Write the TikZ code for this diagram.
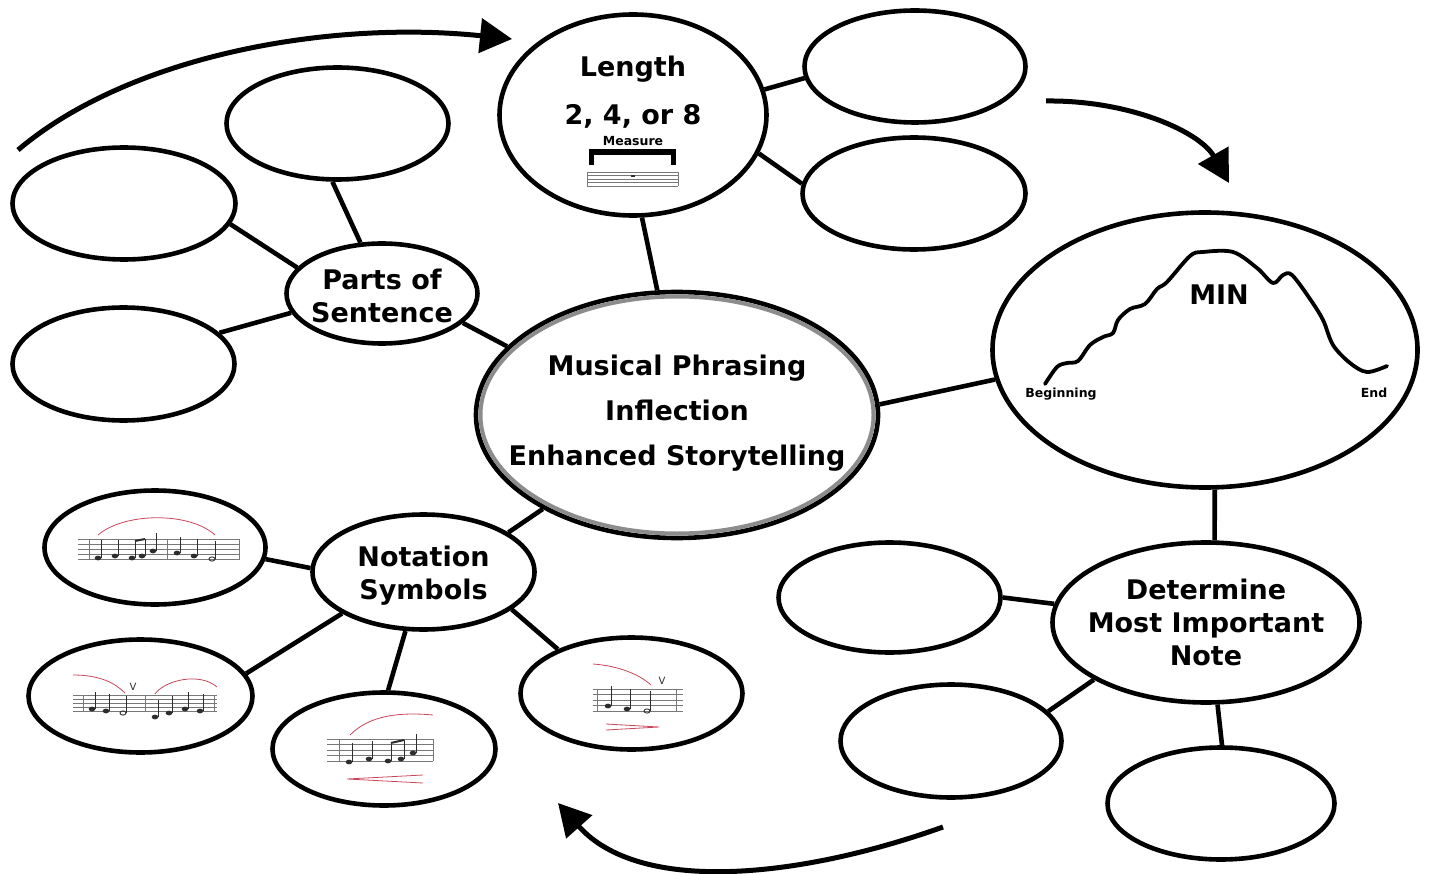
\documentclass[tikz,border=0pt]{standalone}
\usepackage{fontspec}
\setmainfont{DejaVu Sans}
\usetikzlibrary{shapes.geometric,arrows.meta}

\definecolor{slurred}{RGB}{200,70,90}
\definecolor{inkgray}{RGB}{45,45,45}
\definecolor{staffgray}{RGB}{120,120,120}

\newcommand{\bigbold}{\fontsize{27}{33}\selectfont\bfseries}
\newcommand{\tinybold}{\fontsize{12.5}{14}\selectfont\bfseries}

% five staff lines: x from, x to, top y, gap
\newcommand{\musicstaff}[4]{%
  \foreach \k in {0,...,4}
    \draw[staffline] (#1,#3+\k*#4) -- (#2,#3+\k*#4);}
% quarter note: head x, head y, stem top y
\newcommand{\qnote}[3]{%
  \fill[inkgray] (#1,#2) ellipse [x radius=3.3, y radius=2.4];
  \draw[stemline] (#1+2.9,#2) -- (#1+2.9,#3);}
% half note
\newcommand{\hnote}[3]{%
  \draw[inkgray, line width=0.9pt] (#1,#2) ellipse [x radius=3, y radius=2.1];
  \draw[stemline] (#1+2.9,#2) -- (#1+2.9,#3);}

\tikzset{
  bubble/.style={ellipse, draw=black, line width=4.6pt, inner sep=0pt},
  link/.style={line width=4.6pt},
  flow/.style={line width=5pt, -{Triangle[length=32pt,width=34pt]}},
  staffline/.style={staffgray, line width=0.6pt},
  stemline/.style={inkgray, line width=0.8pt},
  slur/.style={slurred, line width=0.8pt},
  words/.style={font=\bigbold, inner sep=0pt, align=center},
  smallwords/.style={font=\tinybold, inner sep=0pt, anchor=base},
}

\begin{document}
\begin{tikzpicture}[x=1pt,y=-1pt]
\useasboundingbox (0,0) rectangle (1434,874);

% centre
\node[bubble, minimum width=402, minimum height=246] (hub) at (677,415) {};
\draw[black!45, line width=4pt] (hub.center) ellipse [x radius=196.5, y radius=118.5];
\node[words, font=\fontsize{27}{45}\selectfont\bfseries] (hubtext) at (677,413)
  {Musical Phrasing\\Inflection\\Enhanced Storytelling};

% length
\node[bubble, minimum width=267, minimum height=201] (len) at (633,115) {};
\node[words, anchor=base] (lentitle) at (633,77) {Length};
\node[words, anchor=base] (lencount) at (633,125) {2, 4, or 8};
\node[smallwords] (lenmeasure) at (633,146) {Measure};
\draw[line width=5.5pt, line join=miter] (591.5,165) -- (591.5,152) -- (673.5,152) -- (673.5,165);
\musicstaff{587}{678}{172}{3.5}
\draw[staffline] (587,172) -- (587,186) (678,172) -- (678,186);
\fill[inkgray] (631,175) rectangle (635,177.5);
\node[bubble, minimum width=221, minimum height=112] (lenup) at (915,66.5) {};
\node[bubble, minimum width=223, minimum height=112] (lenlow) at (914,193.5) {};

% contour
\node[bubble, minimum width=425, minimum height=275] (contour) at (1205,350) {};
\draw[line width=3.8pt, line cap=round, line join=round] plot[smooth, tension=0.55] coordinates {
  (1045,384) (1057,367) (1067,363) (1078,361) (1090,345) (1103,337) (1113,333)
  (1118,320) (1130,309) (1145,304) (1157,289) (1167,282) (1190,256) (1203,252)
  (1233,252) (1257,268) (1273,283) (1283,275) (1292,275) (1310,299) (1323,320)
  (1333,345) (1350,363) (1367,372) (1387,366)};
\node[words, anchor=base] (minlabel) at (1219,305) {MIN};
\node[smallwords] (begin) at (1061,397) {Beginning};
\node[smallwords] (finish) at (1374,397) {End};

% most important note
\node[bubble, minimum width=307, minimum height=160] (det) at (1206,622.5) {};
\node[words] (dettext) at (1206,622.5) {Determine\\Most Important\\Note};
\node[bubble, minimum width=222, minimum height=110] (detleft) at (889.5,597.5) {};
\node[bubble, minimum width=221, minimum height=113] (detlow) at (951,741) {};
\node[bubble, minimum width=227, minimum height=112] (detbottom) at (1221,803.5) {};

% parts of sentence
\node[bubble, minimum width=191, minimum height=100] (parts) at (382,293.5) {};
\node[words] (partstext) at (382,296) {Parts of\\Sentence};
\node[bubble, minimum width=222, minimum height=112] (partstop) at (337.5,123.5) {};
\node[bubble, minimum width=223, minimum height=112] (partsleft) at (124,203.5) {};
\node[bubble, minimum width=222, minimum height=113] (partslow) at (123.5,364) {};

% notation symbols
\node[bubble, minimum width=222, minimum height=115] (nota) at (423.5,572) {};
\node[words] (notatext) at (423.5,576) {Notation\\Symbols};
\node[bubble, minimum width=221, minimum height=114] (scoreA) at (155,547.5) {};
\node[bubble, minimum width=224, minimum height=113] (scoreB) at (140.5,696) {};
\node[bubble, minimum width=223, minimum height=113] (scoreC) at (384,749) {};
\node[bubble, minimum width=222, minimum height=112] (scoreD) at (631.5,693.5) {};

% score A
\musicstaff{78}{240}{539}{5}
\draw[staffline] (89,539) -- (89,559) (167,539) -- (167,559) (239,539) -- (239,559);
\qnote{98}{558}{540}
\qnote{115}{556}{540}
\qnote{132}{558}{541}
\qnote{142}{556}{539}
\draw[inkgray, line width=2pt] (134.9,541) -- (144.9,539);
\qnote{153}{551}{533}
\qnote{177}{553}{537}
\qnote{194}{556}{539}
\hnote{212}{559}{541}
\draw[slur] (98,535) .. controls (125,512) and (190,512) .. (215,535);

% score B
\musicstaff{73}{217}{695}{4}
\draw[staffline] (83,695) -- (83,711) (145,695) -- (145,711) (214,695) -- (214,711);
\qnote{92}{709}{692}
\qnote{106}{711}{694}
\hnote{123}{713}{696}
\qnote{155}{717}{700}
\qnote{169}{713}{696}
\qnote{185}{709}{692}
\qnote{200}{711}{694}
\draw[slur] (73,675) .. controls (100,675) and (115,683) .. (125,693);
\draw[slur] (155,694) .. controls (165,680) and (200,672) .. (217,687);
\node[inner sep=0pt, font=\fontsize{10}{10}\selectfont, inkgray] (breathA) at (133,687) {V};

% score C
\musicstaff{327}{433}{739}{5.5}
\draw[staffline] (339,739) -- (339,761) (433,739) -- (433,761);
\qnote{349}{762}{743}
\qnote{369}{759}{741}
\qnote{388}{761}{743}
\qnote{401}{759}{740}
\draw[inkgray, line width=2pt] (390.9,743) -- (403.9,740);
\qnote{413}{753}{734}
\draw[slur] (350,735) .. controls (370,715) and (400,712) .. (433,715);
\draw[slur] (347,779) -- (423,775) (347,779) -- (423,783);

% score D
\musicstaff{593}{683}{689}{5.5}
\draw[staffline] (597,689) -- (597,711) (676,689) -- (676,711);
\qnote{608}{706}{686}
\qnote{627}{709}{689}
\hnote{647}{711}{691}
\draw[slur] (593,664) .. controls (620,666) and (640,675) .. (651,685);
\node[inner sep=0pt, font=\fontsize{10}{10}\selectfont, inkgray] (breathB) at (662,681) {V};
\draw[slur] (606,724) -- (659,727) -- (606,730);

% connectors
\draw[link] (len.-85) -- (hub.99);
\draw[link] (len.11) -- (lenup.186);
\draw[link] (len.-17) -- (lenlow.175);
\draw[link] (hub.3) -- (contour.188);
\draw[link] (contour.-86) -- (det.84);
\draw[link] (det.173) -- (detleft.0);
\draw[link] (det.207) -- (detlow.17);
\draw[link] (det.-82) -- (detbottom.89);
\draw[link] (hub.158) -- (parts.-20);
\draw[link] (parts.113) -- (partstop.-95);
\draw[link] (parts.163) -- (partsleft.-11);
\draw[link] (parts.192) -- (partslow.18);
\draw[link] (hub.215) -- (nota.25);
\draw[link] (nota.178) -- (scoreA.-6);
\draw[link] (nota.207) -- (scoreB.12);
\draw[link] (nota.-107) -- (scoreC.86);
\draw[link] (nota.-23) -- (scoreD.149);

% cycle arrows
\coordinate (startA) at (18,150);
\coordinate (endA) at (512,39);
\coordinate (startB) at (1046,101);
\coordinate (endB) at (1229,183);
\coordinate (startC) at (943,827);
\coordinate (endC) at (558,803);
\draw[flow] (startA) .. controls (130,55) and (330,20) .. (endA);
\draw[flow] (startB) .. controls (1130,100) and (1200,132) .. (endB);
\draw[flow] (startC) .. controls (800,878) and (640,895) .. (endC);
\end{tikzpicture}
\end{document}
